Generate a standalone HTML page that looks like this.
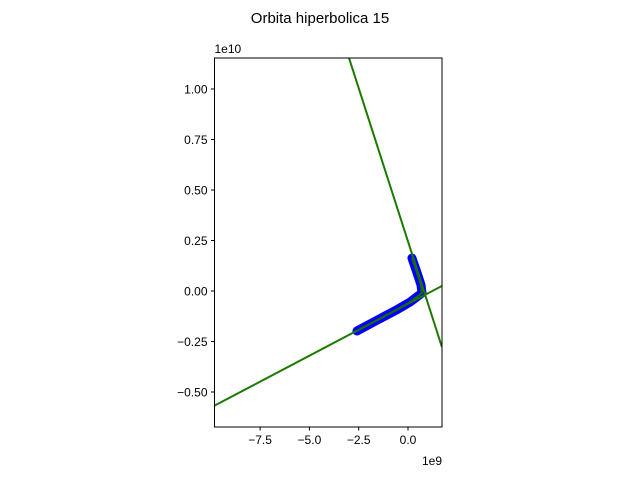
<!DOCTYPE html>
<html><head><meta charset="utf-8"><style>body{margin:0;background:#fff}svg{display:block;font-family:"Liberation Sans","DejaVu Sans",sans-serif}</style></head>
<body>
<svg id="c" width="640" height="480"></svg>
<script>
const xTicks=[-7.5,-5.0,-2.5,0.0];
const yTicks=[-0.50,-0.25,0.00,0.25,0.50,0.75,1.00];
const line1X=[-2.99,1.72], line1Y=[1.153,-0.277];
const line2X=[-9.84,1.72], line2Y=[-0.569,0.025];
const orbitX=[0.20,0.41,0.66,0.71,0.10,-0.66,-1.52,-2.59];
const orbitY=[0.163,0.104,0.03,-0.01,-0.055,-0.098,-0.142,-0.198];
const L=214.5,R=442,T=58,B=427;
const sx=v=>408+v*19.72, sy=v=>291-v*202;
const svg=document.getElementById('c');
const NS='http://www.w3.org/2000/svg';
function mk(t,a,p){const e=document.createElementNS(NS,t);for(const k in a)e.setAttribute(k,a[k]);(p||svg).appendChild(e);return e;}
const title=mk('text',{x:320,y:23,'font-size':15,'text-anchor':'middle'});title.textContent='Orbita hiperbolica 15';


mk('defs',{}).innerHTML='<clipPath id="cp"><rect x="'+L+'" y="'+T+'" width="'+(R-L)+'" height="'+(B-T)+'"/></clipPath>';
const g=mk('g',{'clip-path':'url(#cp)'});


function pts(X,Y){return X.map((v,i)=>sx(v)+','+sy(Y[i])).join(' ');}
const ob=mk('polyline',{points:pts(orbitX,orbitY),fill:'none',stroke:'#0000ff','stroke-width':9,'stroke-linejoin':'round','stroke-linecap':'round'},g);


const l1=mk('polyline',{points:pts(line1X,line1Y),fill:'none',stroke:'#1a7a00','stroke-width':2},g);


const l2=mk('polyline',{points:pts(line2X,line2Y),fill:'none',stroke:'#1a7a00','stroke-width':2},g);


const oc=mk('polyline',{points:pts(orbitX,orbitY),fill:'none',stroke:'#1a6a00','stroke-width':2},g);


const fr=mk('rect',{x:L,y:T,width:R-L,height:B-T,fill:'none',stroke:'#000','stroke-width':1});


xTicks.forEach(v=>{const x=sx(v);mk('line',{x1:x,x2:x,y1:B,y2:B+3.5,stroke:'#000'});
const t=mk('text',{x:x,y:B+17,'font-size':12,'text-anchor':'middle'});t.textContent=(v<0?'\u2212':'')+Math.abs(v).toFixed(1);

});
yTicks.forEach(v=>{const y=sy(v);mk('line',{x1:L-3.5,x2:L,y1:y,y2:y,stroke:'#000'});
const t=mk('text',{x:L-7,y:y+4.5,'font-size':12,'text-anchor':'end'});t.textContent=(v<0?'\u2212':'')+Math.abs(v).toFixed(2);

});
const ey=mk('text',{x:L,y:T-5,'font-size':12});ey.textContent='1e10';


const ex=mk('text',{x:R,y:B+38,'font-size':12,'text-anchor':'end'});ex.textContent='1e9';


</script>
</body></html>
